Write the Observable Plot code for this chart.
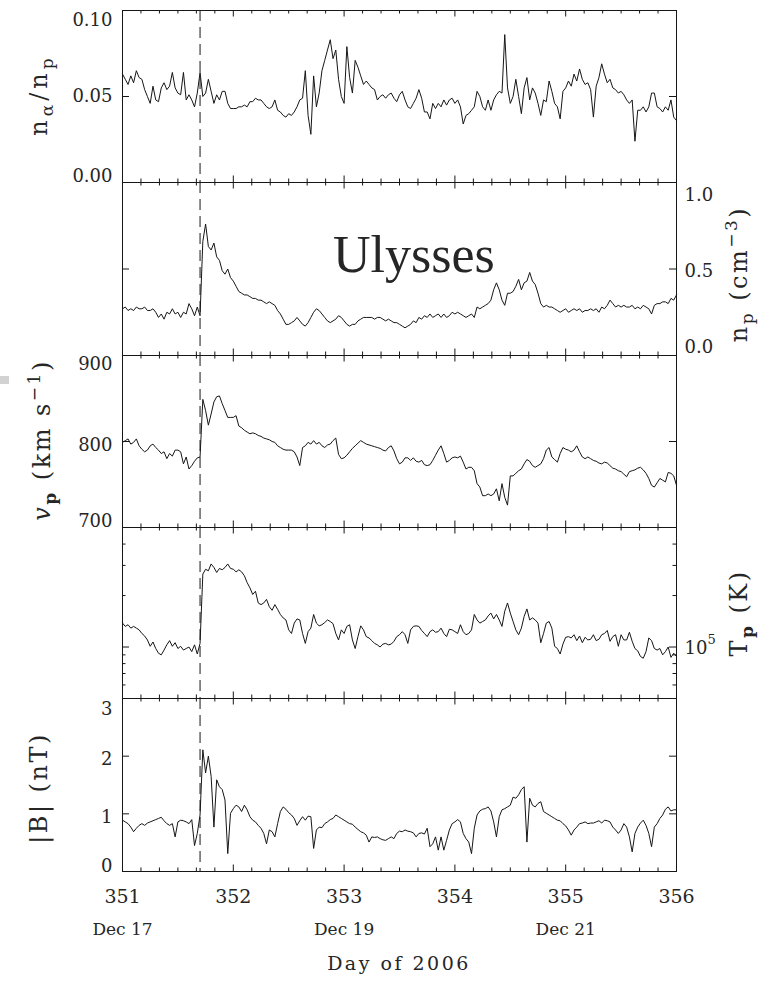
<!DOCTYPE html>
<html>
<head>
<meta charset="utf-8">
<script src="https://cdn.jsdelivr.net/npm/d3@7"></script>
<script src="https://cdn.jsdelivr.net/npm/@observablehq/plot@0.6"></script>
<style>
  html, body { margin: 0; padding: 0; background: #fff; }
  #wrap { position: relative; width: 769px; height: 981px; overflow: hidden; }
  #wrap svg { position: absolute; left: 0; top: 0; overflow: visible; }
  #speck { position: absolute; left: 0; top: 376px; width: 9px; height: 8px; background: #d2d2d2; }
</style>
</head>
<body>
<div id="wrap"><div id="speck"></div></div>
<script>
// ---------------- data ----------------
// samples every 0.025 day from day 351.000 to 356.000 (201 samples)
const sampleStart = 351;
const sampleStep = 0.025;
const sampleCount = 201;

const alphaRatio = [
  0.063,0.060,0.057,0.062,0.058,0.065,0.061,0.060,0.054,0.050,
  0.046,0.056,0.048,0.047,0.055,0.058,0.054,0.056,0.064,0.055,
  0.052,0.051,0.064,0.048,0.051,0.048,0.044,0.052,0.064,0.050,
  0.052,0.060,0.053,0.046,0.051,0.048,0.053,0.053,0.046,0.043,
  0.043,0.043,0.044,0.044,0.045,0.044,0.047,0.047,0.049,0.048,
  0.048,0.046,0.044,0.043,0.044,0.048,0.042,0.041,0.039,0.038,
  0.040,0.039,0.041,0.044,0.048,0.049,0.065,0.039,0.028,0.062,
  0.044,0.052,0.065,0.071,0.077,0.083,0.072,0.077,0.060,0.050,
  0.046,0.079,0.061,0.052,0.071,0.067,0.062,0.057,0.059,0.057,
  0.055,0.054,0.048,0.050,0.051,0.049,0.051,0.052,0.049,0.047,
  0.051,0.053,0.048,0.044,0.043,0.046,0.049,0.054,0.049,0.041,
  0.041,0.037,0.046,0.043,0.046,0.044,0.048,0.045,0.048,0.049,
  0.046,0.048,0.044,0.034,0.039,0.040,0.042,0.044,0.053,0.050,
  0.044,0.042,0.048,0.042,0.048,0.051,0.053,0.052,0.086,0.055,
  0.046,0.050,0.060,0.050,0.040,0.055,0.061,0.048,0.055,0.052,
  0.046,0.039,0.048,0.047,0.059,0.053,0.046,0.044,0.037,0.053,
  0.055,0.059,0.056,0.063,0.059,0.066,0.060,0.057,0.058,0.054,
  0.038,0.056,0.061,0.069,0.063,0.058,0.060,0.055,0.054,0.052,
  0.053,0.051,0.048,0.046,0.048,0.024,0.042,0.042,0.044,0.041,
  0.044,0.052,0.052,0.044,0.043,0.041,0.044,0.042,0.048,0.038,
  0.036
];

const protonDensity = [ // cm^-3
  0.27,0.28,0.26,0.27,0.26,0.28,0.27,0.27,0.28,0.26,
  0.26,0.27,0.25,0.22,0.24,0.21,0.25,0.24,0.27,0.24,
  0.25,0.22,0.25,0.24,0.30,0.27,0.23,0.28,0.23,0.66,
  0.76,0.63,0.61,0.65,0.57,0.55,0.49,0.47,0.50,0.45,
  0.43,0.40,0.37,0.36,0.35,0.35,0.34,0.33,0.33,0.32,
  0.32,0.31,0.30,0.31,0.30,0.29,0.26,0.24,0.21,0.18,
  0.18,0.19,0.20,0.22,0.20,0.18,0.17,0.19,0.22,0.25,
  0.27,0.26,0.24,0.22,0.20,0.19,0.20,0.21,0.23,0.22,
  0.20,0.18,0.17,0.18,0.18,0.20,0.21,0.22,0.22,0.22,
  0.22,0.21,0.22,0.22,0.21,0.20,0.21,0.20,0.19,0.19,
  0.18,0.17,0.16,0.17,0.18,0.20,0.19,0.22,0.21,0.23,
  0.22,0.24,0.22,0.23,0.24,0.22,0.24,0.22,0.23,0.25,
  0.24,0.25,0.24,0.23,0.22,0.23,0.24,0.22,0.28,0.27,
  0.28,0.29,0.30,0.32,0.38,0.42,0.38,0.32,0.29,0.36,
  0.36,0.37,0.40,0.44,0.38,0.42,0.43,0.48,0.43,0.41,
  0.36,0.30,0.28,0.29,0.28,0.28,0.27,0.26,0.25,0.26,
  0.27,0.25,0.26,0.27,0.26,0.27,0.25,0.26,0.26,0.27,
  0.26,0.27,0.25,0.28,0.27,0.29,0.32,0.30,0.28,0.29,
  0.28,0.29,0.28,0.28,0.29,0.27,0.28,0.27,0.29,0.28,
  0.27,0.24,0.29,0.30,0.30,0.31,0.31,0.30,0.33,0.32,
  0.35
];

const protonSpeed = [ // km/s
  799,801,803,797,799,803,795,791,788,790,
  795,797,793,790,786,788,780,786,783,790,
  790,788,774,782,768,772,777,781,782,849,
  836,819,832,846,852,853,844,836,828,828,
  828,830,818,816,813,811,809,810,809,807,
  806,804,803,802,800,799,795,793,791,790,
  790,790,788,782,772,793,795,799,797,801,
  797,799,795,793,796,797,801,804,785,780,
  781,784,788,792,795,798,801,799,797,796,
  795,794,793,792,790,789,793,795,789,780,
  774,776,781,781,778,781,777,776,778,773,
  772,773,778,784,790,795,786,776,778,781,
  782,781,783,776,768,770,770,766,751,747,
  737,737,739,737,739,745,731,751,735,726,
  760,760,763,766,768,774,779,777,772,770,
  772,774,780,790,793,782,779,776,786,793,
  791,790,788,790,795,788,782,780,782,780,
  778,777,775,774,776,775,772,769,768,766,
  765,762,759,765,766,767,769,770,767,763,
  757,749,747,752,757,755,753,764,763,760,
  749
];

const protonTemp = [ // units of 10^5 K
  1.38,1.32,1.35,1.29,1.32,1.29,1.26,1.20,1.16,1.10,
  1.01,1.07,0.98,0.92,0.90,0.96,1.03,1.09,1.01,1.06,
  0.98,1.01,0.96,0.98,1.00,0.94,1.03,0.91,1.05,2.67,
  2.85,2.79,3.06,2.92,2.73,2.88,2.83,2.92,3.06,2.88,
  2.85,2.75,2.83,2.75,2.61,2.38,2.22,2.03,2.12,1.81,
  1.77,1.81,1.90,1.72,1.64,1.77,1.66,1.55,1.48,1.44,
  1.26,1.20,1.38,1.46,1.44,1.20,1.05,1.23,1.29,1.55,
  1.38,1.33,1.35,1.39,1.44,1.41,1.37,1.20,1.10,1.26,
  1.20,1.32,1.35,1.10,0.98,1.15,1.33,1.26,1.15,1.13,
  1.09,1.05,1.03,1.00,1.04,1.05,1.03,1.04,1.08,1.15,
  1.18,1.23,1.18,1.05,1.26,1.32,1.33,1.32,1.25,1.20,
  1.15,1.23,1.26,1.22,1.23,1.29,1.20,1.15,1.27,1.26,
  1.23,1.20,1.35,1.23,1.18,1.20,1.26,1.55,1.44,1.38,
  1.41,1.44,1.52,1.58,1.46,1.55,1.44,1.32,1.62,1.81,
  1.58,1.41,1.26,1.18,1.29,1.51,1.67,1.44,1.48,1.44,
  1.38,1.06,1.20,1.38,1.41,1.29,1.01,0.98,0.91,1.04,
  1.14,1.15,1.13,1.18,1.09,1.16,1.06,1.14,1.10,1.11,
  1.18,1.09,1.11,1.18,1.20,1.25,1.08,1.15,1.18,1.01,
  1.18,1.10,1.10,1.22,1.08,0.98,0.95,0.88,0.86,0.94,
  1.13,1.09,0.98,0.96,0.98,0.90,0.94,1.00,0.87,0.92,
  0.88
];

const fieldMagnitude = [ // nT
  0.89,0.86,0.83,0.77,0.69,0.75,0.80,0.83,0.80,0.84,
  0.86,0.88,0.90,0.92,0.94,0.88,0.83,0.80,0.83,0.60,
  0.86,0.89,0.88,0.86,0.83,0.90,0.45,0.66,0.98,2.11,
  1.71,2.00,1.65,0.77,1.59,1.47,1.42,1.24,0.31,1.01,
  1.09,1.15,1.12,1.04,1.15,1.07,0.95,0.89,0.86,0.80,
  0.75,0.66,0.48,0.72,0.69,0.60,0.83,1.04,1.12,1.08,
  1.02,0.98,0.92,0.80,0.88,0.95,0.89,0.96,0.95,0.40,
  0.72,0.77,0.76,0.83,0.86,0.90,0.92,0.98,0.95,0.92,
  0.89,0.86,0.83,0.82,0.77,0.73,0.69,0.67,0.63,0.51,
  0.60,0.59,0.60,0.57,0.55,0.54,0.57,0.60,0.57,0.66,
  0.70,0.69,0.72,0.70,0.69,0.67,0.60,0.66,0.67,0.65,
  0.75,0.43,0.48,0.60,0.37,0.60,0.37,0.54,0.72,0.83,
  0.86,0.90,0.86,0.66,0.57,0.51,0.31,0.75,0.98,1.05,
  1.08,1.09,1.12,1.05,0.86,0.60,0.95,1.07,1.09,1.12,
  1.15,1.29,1.27,1.33,1.42,1.47,0.51,1.27,1.15,1.12,
  1.18,1.21,1.04,1.01,0.98,0.95,0.92,0.89,0.88,0.83,
  0.79,0.72,0.63,0.72,0.77,0.83,0.84,0.86,0.83,0.84,
  0.84,0.86,0.88,0.84,0.89,0.88,0.86,0.77,0.72,0.66,
  0.72,0.83,0.77,0.60,0.34,0.66,0.77,0.84,0.89,0.80,
  0.66,0.43,0.77,0.83,0.92,0.98,1.08,1.12,1.05,1.07,
  1.07
];

const shockDay = 351.70;
const dayTicks = [351, 352, 353, 354, 355, 356];
const dateTicks = [351, 353, 355];
const dateLabels = ["Dec 17", "Dec 19", "Dec 21"];

const alphaTicks = [0.10, 0.05, 0.00];
const alphaTickLabels = ["0.10", "0.05", "0.00"];
const densityTicks = [1.0, 0.5, 0.0];
const densityTickLabels = ["1.0", "0.5", "0.0"];
const speedTicks = [900, 800, 700];
const speedTickLabels = ["900", "800", "700"];
const tempTicks = [1];
const tempTickLabels = ["10"];
const tempTickExponents = ["5"];
const tempMinorTicks = [0.6, 0.7, 0.8, 0.9, 2, 3, 4];
const fieldTicks = [3, 2, 1, 0];
const fieldTickLabels = ["3", "2", "1", "0"];

// ---------------- layout ----------------
const W = 769, H = 981, FL = 122, FR = 676;
const sampleTimes = d3.range(sampleCount).map(i => +(sampleStart + i * sampleStep).toFixed(3));
const minorDayTicks = d3.range(0, 31).map(i => sampleStart + i / 6).filter(t => Math.abs(t - Math.round(t)) > 1e-6);
const ink = "#161616";
const textInk = "#262626";

const panels = [
  {values: alphaRatio, top: 10, bottom: 182, y: {domain: [0, 0.1]},
   major: [0.05], minor: [], side: "left", ticks: alphaTicks, labels: alphaTickLabels, shifts: [10, 0, -6]},
  {values: protonDensity, top: 182, bottom: 355, y: {domain: [0, 1]},
   major: [0.5], minor: [], side: "right", ticks: densityTicks, labels: densityTickLabels, shifts: [13, 2, -8]},
  {values: protonSpeed, top: 355, bottom: 527, y: {domain: [700, 900]},
   major: [800], minor: [], side: "left", ticks: speedTicks, labels: speedTickLabels, shifts: [9, 4, -6]},
  {values: protonTemp, top: 527, bottom: 698, y: {type: "log", domain: [0.5, 5]},
   major: [1], minor: tempMinorTicks, side: "right", ticks: tempTicks, labels: tempTickLabels, shifts: [1],
   exponents: tempTickExponents},
  {values: fieldMagnitude, top: 698, bottom: 871, y: {domain: [0, 3]},
   major: [1, 2], minor: [], side: "left", ticks: fieldTicks, labels: fieldTickLabels, shifts: [11, 3, 3, -5], xLabels: true}
];

const wrap = document.getElementById("wrap");

for (const p of panels) {
  const h = p.bottom - p.top;
  const w = FR - FL;
  const rows = sampleTimes.map((t, i) => ({t, v: p.values[i]}));
  const marks = [
    Plot.tickX(dayTicks, {x: d => d, insetTop: h - 6.5, stroke: ink}),
    Plot.tickX(dayTicks, {x: d => d, insetBottom: h - 6.5, stroke: ink}),
    Plot.tickX(minorDayTicks, {x: d => d, insetTop: h - 3.5, stroke: ink}),
    Plot.tickX(minorDayTicks, {x: d => d, insetBottom: h - 3.5, stroke: ink}),
    Plot.tickY(p.major, {y: d => d, insetRight: w - 7, stroke: ink}),
    Plot.tickY(p.major, {y: d => d, insetLeft: w - 7, stroke: ink}),
    Plot.tickY(p.minor, {y: d => d, insetRight: w - 3.5, stroke: ink}),
    Plot.tickY(p.minor, {y: d => d, insetLeft: w - 3.5, stroke: ink}),
    Plot.ruleX([shockDay], {stroke: ink, strokeWidth: 1, strokeDasharray: "11,6"}),
    Plot.line(rows, {x: "t", y: "v", stroke: ink, strokeWidth: 1}),
    Plot.frame({stroke: ink, strokeWidth: 1})
  ];
  p.ticks.forEach((v, i) => {
    marks.push(Plot.text([v], {
      y: d => d,
      text: () => p.labels[i],
      frameAnchor: p.side,
      textAnchor: p.side === "left" ? "end" : "start",
      dx: p.side === "left" ? -10 : 8,
      dy: p.shifts[i],
      fontSize: 18,
      fill: textInk
    }));
    if (p.exponents) {
      marks.push(Plot.text([v], {
        y: d => d,
        text: () => p.exponents[i],
        frameAnchor: p.side,
        textAnchor: "start",
        dx: 8 + 23,
        dy: p.shifts[i] - 8,
        fontSize: 13,
        fill: textInk
      }));
    }
  });
  if (p.xLabels) {
    marks.push(Plot.text(dayTicks, {x: d => d, text: d => String(d), frameAnchor: "bottom", dy: 31, fontSize: 19, fill: textInk}));
    marks.push(Plot.text(dateTicks, {x: d => d, text: (d, i) => dateLabels[i], frameAnchor: "bottom", dy: 63, fontSize: 17, fill: textInk}));
  }
  const svg = Plot.plot({
    width: W, height: H,
    marginLeft: FL, marginRight: W - FR,
    marginTop: p.top, marginBottom: H - p.bottom,
    x: {domain: [351, 356], axis: null},
    y: {...p.y, axis: null},
    style: {background: "transparent", overflow: "visible", fontFamily: "'DejaVu Serif', serif", color: ink},
    marks
  });
  wrap.appendChild(svg);
}

// ---------------- axis titles and annotation ----------------
const ov = d3.select(wrap).append("svg")
  .attr("width", W).attr("height", H)
  .style("font-family", "'DejaVu Serif', serif")
  .style("fill", textInk);

function vlabel(x, y, parts, spacing = 2.5) {
  const t = ov.append("text")
    .attr("transform", `translate(${x},${y}) rotate(-90)`)
    .attr("text-anchor", "middle")
    .style("font-size", "24px")
    .style("letter-spacing", spacing + "px");
  let shift = 0;
  for (const part of parts) {
    const s = t.append("tspan").text(part.text);
    const target = part.sub ? 6 : part.sup ? -10 : 0;
    if (target !== shift) { s.attr("dy", target - shift); shift = target; }
    if (part.sub || part.sup) s.style("font-size", "17px");
    if (part.italic) s.style("font-style", "italic");
    if (part.bold) s.style("font-weight", "bold");
  }
}

vlabel(47, 95, [{text: "n"}, {text: "\u03b1", sub: true}, {text: "/"}, {text: "n"}, {text: "p", sub: true}], 4);
vlabel(747, 274, [{text: "n"}, {text: "p", sub: true}, {text: " (cm"}, {text: "\u22123", sup: true}, {text: ")"}]);
vlabel(50, 440, [{text: "v", italic: true}, {text: "p", sub: true, bold: true}, {text: " (km s"}, {text: "\u22121", sup: true}, {text: ")"}]);
vlabel(747, 613, [{text: "T"}, {text: "p", sub: true, bold: true}, {text: " (K)"}]);
vlabel(47, 788, [{text: "|B| (nT)"}]);

ov.append("text")
  .attr("x", 333).attr("y", 272)
  .style("font-family", "'Liberation Serif', serif")
  .style("font-size", "52px")
  .style("fill", "#262626")
  .text("Ulysses");

ov.append("text")
  .attr("x", 399).attr("y", 970)
  .attr("text-anchor", "middle")
  .style("font-size", "19px")
  .style("letter-spacing", "2.5px")
  .text("Day of 2006");
</script>
</body>
</html>
